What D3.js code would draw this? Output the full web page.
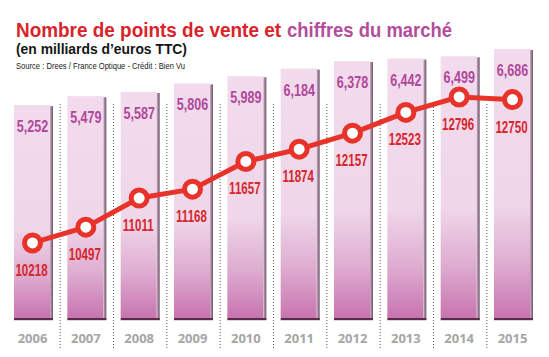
<!DOCTYPE html>
<html><head><meta charset="utf-8">
<script src="https://cdn.jsdelivr.net/npm/d3@7"></script>
<style>html,body{margin:0;padding:0;background:#fff;}svg{display:block;}</style>
</head><body><div id="chart"></div>
<script>
const years = ["2006","2007","2008","2009","2010","2011","2012","2013","2014","2015"];
const marketValues = [5.252,5.479,5.587,5.806,5.989,6.184,6.378,6.442,6.499,6.686];
const marketLabels = ["5,252","5,479","5,587","5,806","5,989","6,184","6,378","6,442","6,499","6,686"];
const storeCounts = [10218,10497,11011,11168,11657,11874,12157,12523,12796,12750];
const storeLabels = ["10218","10497","11011","11168","11657","11874","12157","12523","12796","12750"];
const titleRed = "Nombre de points de vente et";
const titlePurple = "chiffres du marché";
const subtitle = "(en milliards d\u2019euros TTC)";
const source = "Source : Drees / France Optique - Crédit : Bien Vu";

const W = 549, H = 357;
const svg = d3.select("#chart").append("svg").attr("width", W).attr("height", H);
const defs = svg.append("defs");
const g1 = defs.append("linearGradient").attr("id","barGrad").attr("x1",0).attr("y1",0).attr("x2",0).attr("y2",1);
g1.append("stop").attr("offset","0%").attr("stop-color","#f1dbec");
g1.append("stop").attr("offset","58%").attr("stop-color","#efd7e9");
g1.append("stop").attr("offset","80%").attr("stop-color","#deacd0");
g1.append("stop").attr("offset","100%").attr("stop-color","#c874b0");
const g2 = defs.append("linearGradient").attr("id","shadeGrad").attr("x1",0).attr("y1",0).attr("x2",1).attr("y2",0);
g2.append("stop").attr("offset","0%").attr("stop-color","#c8b0c4");
g2.append("stop").attr("offset","100%").attr("stop-color","#6e5068");

const x = d3.scalePoint().domain(years).range([33.5, 513.5]);
const step = x.step();
const barW = 36, shadeW = 3;
const base = 318;
const yBar = d3.scaleLinear().domain([0, 7]).range([310.4, 36.7]);
const yLine = d3.scaleLinear().domain([10000, 13000]).range([255.3, 85.4]);

// title
svg.append("text").attr("x",16).attr("y",37).attr("fill","#d9232b")
  .attr("font-family","Liberation Sans, Arial, sans-serif").attr("font-weight","bold").attr("font-size",19.5)
  .attr("textLength",265).attr("lengthAdjust","spacingAndGlyphs").text(titleRed);
svg.append("text").attr("x",287).attr("y",37).attr("fill","#b24d9b")
  .attr("font-family","Liberation Sans, Arial, sans-serif").attr("font-weight","bold").attr("font-size",19.5)
  .attr("textLength",165).attr("lengthAdjust","spacingAndGlyphs").text(titlePurple);
svg.append("text").attr("x",16).attr("y",54).attr("fill","#151515")
  .attr("font-family","Liberation Sans, Arial, sans-serif").attr("font-weight","bold").attr("font-size",14)
  .attr("textLength",171).attr("lengthAdjust","spacingAndGlyphs").text(subtitle);
svg.append("text").attr("x",16).attr("y",68.5).attr("fill","#222")
  .attr("font-family","Liberation Sans, Arial, sans-serif").attr("font-size",8.6)
  .attr("textLength",169).attr("lengthAdjust","spacingAndGlyphs").text(source);

// dotted separators
svg.append("g").selectAll("line").data(years.slice(1)).join("line")
  .attr("x1", d => x(d) - step/2).attr("x2", d => x(d) - step/2)
  .attr("y1", 104).attr("y2", 349)
  .attr("stroke","#555").attr("stroke-width",1).attr("stroke-dasharray","1,2");

// bars
const bars = svg.append("g").selectAll("g").data(years).join("g");
bars.append("rect")
  .attr("x", d => x(d) - 19.5)
  .attr("y", (d,i) => yBar(marketValues[i]))
  .attr("width", barW)
  .attr("height", (d,i) => base - yBar(marketValues[i]))
  .attr("fill","url(#barGrad)");
bars.append("rect")
  .attr("x", d => x(d) - 19.5 + barW)
  .attr("y", (d,i) => yBar(marketValues[i]) + 1)
  .attr("width", shadeW)
  .attr("height", (d,i) => base - yBar(marketValues[i]) + 1)
  .attr("fill","url(#shadeGrad)");
bars.append("rect")
  .attr("x", d => x(d) - 19.5)
  .attr("y", base)
  .attr("width", barW + shadeW)
  .attr("height", 2.2)
  .attr("fill","#5a2b4b");

// bar value labels
bars.append("g")
  .attr("transform", (d,i) => `translate(${x(d) - 1},${yBar(marketValues[i]) + 27})`)
  .append("text")
  .attr("transform","scale(0.76,1)")
  .attr("text-anchor","middle")
  .attr("font-family","Liberation Sans, Arial, sans-serif").attr("font-weight","bold").attr("font-size",16.5)
  .attr("fill","#b0479a")
  .text((d,i) => marketLabels[i]);

// year labels
svg.append("g").selectAll("text").data(years).join("text")
  .attr("x", d => x(d) - 1).attr("y", 343)
  .attr("text-anchor","middle")
  .attr("font-family","Open Sans, sans-serif").attr("font-weight","bold").attr("font-size",13)
  .attr("fill","#a6a6a6")
  .text(d => d);

// line
const line = d3.line().x((d,i) => x(years[i]) - 1).y(d => yLine(d));
svg.append("path").datum(storeCounts).attr("d", line)
  .attr("fill","none").attr("stroke","#e8332b").attr("stroke-width",5).attr("stroke-linejoin","round");
svg.append("g").selectAll("circle").data(storeCounts).join("circle")
  .attr("cx", (d,i) => x(years[i]) - 1).attr("cy", d => yLine(d))
  .attr("r", 8).attr("fill","#fff").attr("stroke","#e8332b").attr("stroke-width",5);

// line labels
svg.append("g").selectAll("g").data(storeCounts).join("g")
  .attr("transform", (d,i) => `translate(${x(years[i]) - 2},${yLine(d) + 33})`)
  .append("text")
  .attr("transform","scale(0.7,1)")
  .attr("text-anchor","middle")
  .attr("font-family","Liberation Sans, Arial, sans-serif").attr("font-weight","bold").attr("font-size",16.5)
  .attr("fill","#d6262b")
  .text((d,i) => storeLabels[i]);
</script>
</body></html>
